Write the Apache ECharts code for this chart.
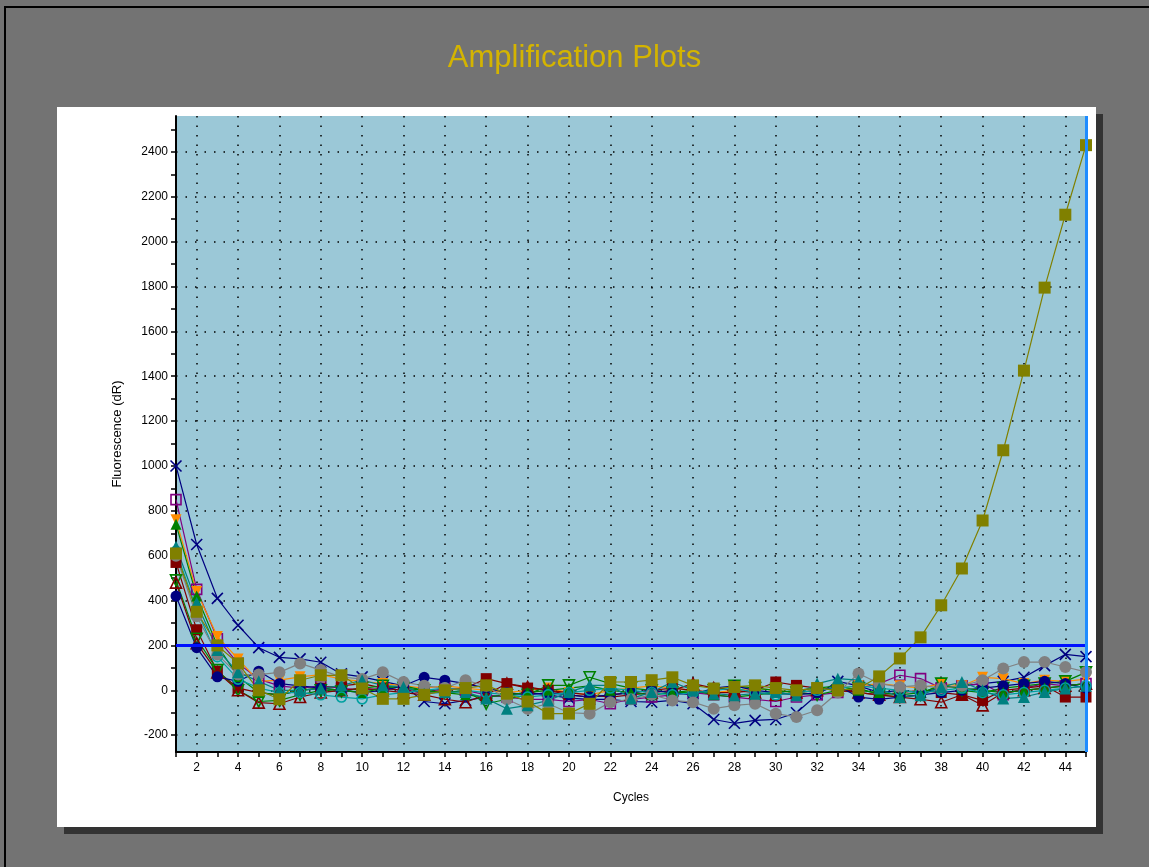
<!DOCTYPE html>
<html>
<head>
<meta charset="utf-8">
<script src="https://cdn.jsdelivr.net/npm/echarts@6/dist/echarts.min.js"></script>
<style>
  html, body { margin: 0; padding: 0; background: #737373; }
  #main { width: 1149px; height: 867px; }
</style>
</head>
<body>
<div id="main"></div>
<script>
// cycles 1..45
var cycles = [];
for (var c = 1; c <= 45; c++) cycles.push(String(c));

var threshold = 200;
var lastCycle = '45';

// y ticks (every 100) and labels/grid (every 200)
var yTickValues = [-200,-100,0,100,200,300,400,500,600,700,800,900,1000,1100,1200,1300,1400,1500,1600,1700,1800,1900,2000,2100,2200,2300,2400,2500];
var yLabelValues = [-200,0,200,400,600,800,1000,1200,1400,1600,1800,2000,2200,2400];

// fluorescence per well (dR)
var navyCross = [1000,650,410,290,190,147,140,125,73,60,40,20,-50,-60,-45,-30,-20,-10,-20,-35,-40,-40,-50,-53,-45,-60,-130,-147,-134,-130,-100,-20,40,20,-10,0,-10,10,20,30,40,58,110,160,150];
var purpleSq = [850,450,230,120,50,20,10,20,10,0,10,0,-10,10,0,-20,-30,-40,-40,-50,-40,-60,-40,-30,-20,-10,-20,-30,-40,-50,-30,-20,-10,10,30,67,52,10,20,30,-20,10,30,20,30];
var orangeTri = [760,440,240,140,40,45,60,70,50,40,30,20,10,20,10,0,-10,0,10,-10,-20,0,10,20,10,0,-10,0,10,0,-10,0,10,20,30,20,10,30,20,58,52,30,45,40,50];
var darkRedSq = [570,270,85,10,-10,-20,0,10,20,30,10,0,-10,0,10,52,30,10,0,-20,-30,-20,-10,0,10,0,-10,-10,0,37,22,10,0,-10,-20,-10,0,-10,-20,-45,0,10,20,-30,-30];
var greenOpenTri = [490,230,90,0,-50,-45,-20,0,-5,10,20,10,0,-10,0,-60,-40,-20,22,22,58,30,10,0,-10,-10,0,20,10,0,-10,-20,0,10,-20,-30,-20,30,0,-10,10,20,30,40,80];
var darkRedOpenTri = [480,210,80,0,-55,-60,-30,-10,0,10,0,-10,-20,-40,-53,-20,30,15,0,-10,-20,-30,-20,-10,0,30,10,0,-10,-20,-10,0,10,-10,-20,-30,-40,-53,-20,-67,-10,0,10,20,30];
var navyCircle = [420,190,60,40,85,30,20,10,0,-10,0,20,58,45,30,10,-10,-20,-10,-20,-30,-20,-10,0,-10,-20,10,20,0,-10,-20,-10,20,-30,-40,-30,-20,-10,0,10,20,30,40,30,10];
var greenTri = [740,420,200,60,-10,-20,0,10,0,-10,10,20,0,-10,-20,-30,-20,-10,0,10,20,0,-10,-20,-10,0,-20,-30,-20,-10,0,10,20,0,-10,-20,-10,20,10,0,-10,0,10,20,30];
var tealCircle = [620,360,150,50,10,-10,-10,-20,-30,-38,-20,-10,0,10,0,-10,-20,-30,-20,-10,0,10,0,-10,-20,-10,0,10,-10,-20,-10,0,10,20,10,0,-10,0,10,-10,-20,-10,0,10,20];
var grayCircle = [600,330,160,70,70,80,120,90,60,50,80,37,20,10,45,20,-40,-82,-60,-100,-104,-53,-40,-20,-45,-53,-82,-67,-60,-104,-119,-89,-10,75,30,15,22,10,20,45,97,126,126,104,82];
var tealTri = [640,390,180,80,40,0,0,8,22,45,22,15,-15,-8,-8,-37,-82,-67,-45,-8,22,22,-37,-8,37,0,-15,-22,-15,-8,-22,30,52,45,8,-30,-22,15,37,0,-37,-30,-8,8,20];
var oliveSq = [610,350,200,120,0,-40,45,67,67,8,-38,-38,-20,0,10,22,-15,-50,-104,-104,-60,37,37,45,58,22,8,15,22,10,0,10,0,8,62,142,236,379,543,757,1070,1425,1795,2120,2430];

var crossPath = 'path://M0,0L10,10M10,0L0,10';

function well(name, data, color, symbol, opts) {
  opts = opts || {};
  var hollow = opts.hollow;
  return {
    name: name,
    type: 'line',
    data: data,
    symbol: symbol,
    symbolSize: opts.size || 11,
    symbolRotate: opts.rotate || 0,
    lineStyle: { color: color, width: 1.2 },
    itemStyle: hollow
      ? { color: 'rgba(0,0,0,0)', borderColor: color, borderWidth: 1.6 }
      : { color: color },
    emphasis: { disabled: true },
    silent: true,
    z: 3
  };
}

var chart = echarts.init(document.getElementById('main'));

var series = [
  well('A1', navyCross, '#000080', crossPath, { hollow: true, size: 11 }),
  well('A2', purpleSq, '#800080', 'rect', { hollow: true, size: 10 }),
  well('A3', orangeTri, '#FF8C00', 'triangle', { rotate: 180 }),
  well('A4', darkRedSq, '#800000', 'rect'),
  well('A5', greenOpenTri, '#008000', 'triangle', { hollow: true, rotate: 180 }),
  well('A6', darkRedOpenTri, '#800000', 'triangle', { hollow: true }),
  well('A7', navyCircle, '#000080', 'circle'),
  well('A8', greenTri, '#008000', 'triangle'),
  well('A9', tealCircle, '#00A0A0', 'circle', { hollow: true, size: 10 }),
  well('A10', grayCircle, '#808080', 'circle', { size: 12 }),
  well('A11', tealTri, '#008080', 'triangle', { size: 12 }),
  well('A12', oliveSq, '#808000', 'rect', { size: 12 })
];

// threshold and end-cycle markers
series.push({
  type: 'line',
  data: [],
  silent: true,
  markLine: {
    silent: true,
    symbol: 'none',
    label: { show: false },
    animation: false,
    data: [
      { yAxis: threshold, lineStyle: { color: '#0010FF', width: 3, type: 'solid' } },
      { xAxis: lastCycle, lineStyle: { color: '#1E8CFF', width: 3, type: 'solid' } }
    ]
  }
});

var option = {
  backgroundColor: '#737373',
  animation: false,
  title: {
    text: 'Amplification Plots',
    left: 'center',
    top: 38,
    textStyle: { color: '#D4B400', fontSize: 31, fontWeight: 'normal', fontFamily: 'Liberation Sans, Arial' }
  },
  graphic: [
    { type: 'rect', z: -20, shape: { x: 5, y: 7, width: 1200, height: 900 }, style: { fill: 'none', stroke: '#000', lineWidth: 2 } },
    { type: 'rect', z: -20, shape: { x: 64, y: 114, width: 1039, height: 720 }, style: { fill: '#333333' } },
    { type: 'rect', z: -19, shape: { x: 57, y: 107, width: 1039, height: 720 }, style: { fill: '#ffffff' } }
  ],
  grid: {
    left: 176,
    right: 63,
    top: 116,
    bottom: 115,
    show: true,
    backgroundColor: '#9BC8D7',
    borderWidth: 0
  },
  xAxis: {
    type: 'category',
    data: cycles,
    boundaryGap: false,
    name: 'Cycles',
    nameLocation: 'middle',
    nameGap: 40,
    nameTextStyle: { color: '#000', fontSize: 12, fontFamily: 'Liberation Sans, Arial' },
    axisLine: { onZero: false, lineStyle: { color: '#000', width: 2 } },
    axisTick: { interval: 0, length: 5, lineStyle: { color: '#000', width: 1.5 } },
    axisLabel: {
      interval: function (i) { return i % 2 === 1; },
      color: '#000', fontSize: 12, margin: 10, fontFamily: 'Liberation Sans, Arial'
    },
    splitLine: {
      show: true,
      interval: function (i) { return i % 2 === 1; },
      lineStyle: { color: '#000', width: 1.5, type: [1.5, 8] }
    }
  },
  yAxis: [{
    type: 'value',
    min: -275,
    max: 2560,
    name: 'Fluorescence (dR)',
    nameLocation: 'middle',
    nameGap: 52,
    nameTextStyle: { color: '#000', fontSize: 13, fontFamily: 'Liberation Sans, Arial' },
    axisLine: { show: true, onZero: false, lineStyle: { color: '#000', width: 2 } },
    axisTick: { show: true, length: 5, customValues: yTickValues, lineStyle: { color: '#000', width: 1.5 } },
    axisLabel: {
      customValues: yLabelValues,
      formatter: function (v) { return String(v); },
      color: '#000', fontSize: 12, margin: 8, fontFamily: 'Liberation Sans, Arial'
    },
    splitLine: { show: false }
  }, {
    type: 'value',
    min: -275,
    max: 2560,
    position: 'left',
    axisLine: { show: false },
    axisTick: { show: false, customValues: yLabelValues },
    axisLabel: { show: false, customValues: yLabelValues },
    splitLine: { show: true, lineStyle: { color: '#000', width: 1.5, type: [1.5, 8] } }
  }],
  series: series
};

chart.setOption(option);
</script>
</body>
</html>
